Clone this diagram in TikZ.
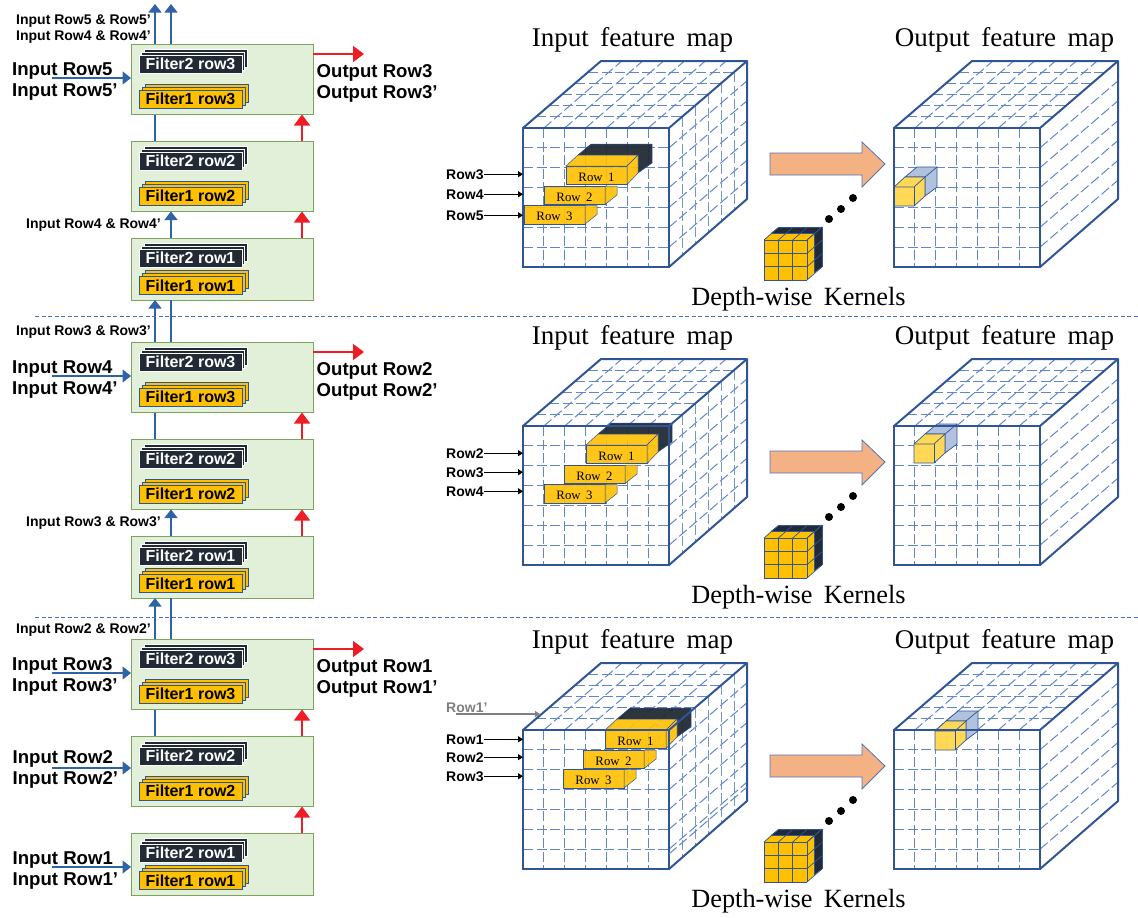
\documentclass[tikz,border=0pt]{standalone}
\usepackage{fontspec}
\setmainfont{Liberation Serif}[WordSpace=1.7]
\setsansfont{Liberation Sans}
\usetikzlibrary{arrows.meta,positioning}
\definecolor{gridblue}{HTML}{4472C4}
\definecolor{edgeblue}{HTML}{2F5597}
\definecolor{arrowblue}{HTML}{2E63A8}
\definecolor{blockgreen}{HTML}{E2F0D9}
\definecolor{blockedge}{HTML}{7BA45F}
\definecolor{filterdark}{HTML}{222A35}
\definecolor{filtergold}{HTML}{FFC000}
\definecolor{outred}{HTML}{EE1C25}
\definecolor{peach}{HTML}{F4B183}
\definecolor{lightyellow}{HTML}{FFD955}
\definecolor{paleblue}{HTML}{B0C2DE}

\begin{document}
\begin{tikzpicture}[
        x=1pt, y=-1pt,
        block/.style = {draw=blockedge, fill=blockgreen, line width=1pt, minimum width=182pt, inner sep=0pt, outer sep=0pt},
        filterbox/.style = {minimum width=103pt, minimum height=18pt, inner sep=0pt, font=\sffamily\bfseries\fontsize{16}{18}\selectfont},
        darkbox/.style = {filterbox, draw=white, line width=0.6pt, fill=filterdark, text=white},
        goldbox/.style = {filterbox, draw=edgeblue, line width=0.7pt, fill=filtergold, text=black},
        inlabel/.style = {anchor=base west, inner sep=0pt, font=\sffamily\bfseries\fontsize{18.6}{20}\selectfont},
        smalllabel/.style = {anchor=base west, inner sep=0pt, font=\sffamily\bfseries\fontsize{14}{16}\selectfont},
        rowlabel/.style = {anchor=base west, inner sep=0pt, font=\sffamily\bfseries\fontsize{14}{16}\selectfont},
        heading/.style = {anchor=base, inner sep=0pt, font=\fontsize{27}{30}\selectfont},
        kernelhead/.style = {anchor=base, inner sep=0pt, font=\fontsize{26.3}{30}\selectfont},
        blueline/.style = {draw=arrowblue, line width=1.5pt},
        bluearrow/.style = {blueline, -{Triangle[width=13pt,length=8.5pt]}},
        redarrow/.style = {draw=outred, line width=1.5pt, -{Triangle[width=16pt,length=11pt]}},
        rowarrow/.style = {draw=black, line width=1.2pt, -{Triangle[width=6pt,length=5pt]}},
        griddash/.style = {draw=gridblue!85!white, line width=1pt, dash pattern=on 10pt off 3.5pt},
        sidedash/.style = {draw=gridblue!75!white, line width=0.8pt, dash pattern=on 10pt off 3.5pt},
        cubeface/.style = {draw=edgeblue, line width=2pt, minimum width=146pt, minimum height=139pt, inner sep=0pt, outer sep=0pt},
        cubeedge/.style = {draw=edgeblue, line width=2pt, line join=round},
        rowfront/.style = {draw=edgeblue, line width=0.5pt, fill=filtergold, fill opacity=0.9, text opacity=1, anchor=north west, inner sep=0pt, outer sep=0pt, minimum width=61pt, minimum height=18.5pt, text height=12pt, text depth=0pt, font=\fontsize{12.8}{14}\selectfont},
        goldface/.style = {draw=edgeblue, line width=0.5pt, fill=filtergold, fill opacity=0.9},
        darkface/.style = {draw=edgeblue, line width=0.5pt, fill=filterdark, fill opacity=0.95},
        cellline/.style = {draw=edgeblue, line width=0.7pt},
        dotnode/.style = {circle, fill=black, minimum size=8pt, inner sep=0pt},
        sepline/.style = {draw=gridblue, line width=0.7pt, dash pattern=on 4pt off 2.5pt},
        pics/darkstack/.style = {code={
            \node[darkbox] (-back) at (5.5,-5.5) {};
            \node[darkbox] (-mid) at (2.75,-2.75) {};
            \node[darkbox] (-front) at (0,0) {#1};
        }},
        pics/goldstack/.style = {code={
            \node[goldbox] (-back) at (6,-6) {};
            \node[goldbox] (-mid) at (3,-3) {};
            \node[goldbox] (-front) at (0,0) {#1};
        }},
        pics/cubegrid/.style = {code={
            \foreach \i in {1,...,6} {
                \draw[griddash] ({\i*20.86},0) -- ({\i*20.86},139);
                \draw[griddash] (0,{\i*19.86}) -- (146,{\i*19.86});
                \draw[griddash] ({\i*20.86},0) -- ++(78,-67);
                \draw[griddash] (146,{\i*19.86}) -- ++(78,-67);
            }
            \foreach \i in {1,...,5} {
                \draw[griddash] ({\i*13},{-\i*11.17}) -- ++(146,0);
            }
        }},
        pics/sidegrid/.style = {code={
            \foreach \i in {1,...,5} {
                \draw[sidedash] ({146+\i*13},{-\i*11.17}) -- ++(0,139);
            }
        }},
        pics/cubeframe/.style = {code={
            \node[cubeface] (-face) at (73,69.5) {};
            \draw[cubeedge] (-face.north west) -- ++(78,-67) -- ++(146,0) -- ++(0,138) -- (-face.south east);
            \draw[cubeedge] (-face.north east) -- ++(78,-67);
        }},
        pics/kernelcube/.style = {code={
            \fill[filterdark] (7,-7) -- (15,-13) -- (58,-13) -- (58,27) -- (50,33) -- (50,-7) -- cycle;
            \fill[filtergold] (0,0) -- (7,-7) -- (50,-7) -- (50,33) -- (43,40) -- (0,40) -- cycle;
            \foreach \i in {0,1,2,3} {
                \draw[cellline] ({\i*14.33},0) -- ({\i*14.33},40);
                \draw[cellline] (0,{\i*13.33}) -- (43,{\i*13.33});
                \draw[cellline] ({\i*14.33},0) -- ++(15,-13);
                \draw[cellline] (43,{\i*13.33}) -- ++(15,-13);
            }
            \draw[cellline] (7,-7) -- ++(43,0) -- ++(0,40);
            \draw[cellline] (15,-13) -- ++(43,0) -- ++(0,40);
        }},
        pics/yellowcube/.style = {code={
            \draw[cellline, fill=paleblue] (11,-10) -- (23,-20) -- (43,-20) -- (43,0) -- (31,9) -- (31,-10) -- cycle;
            \draw[cellline] (31,-10) -- (43,-20);
            \draw[cellline, fill=lightyellow] (0,0) -- (11,-10) -- (31,-10) -- (31,9) -- (20,19) -- (0,19) -- cycle;
            \draw[cellline] (0,0) -- (20,0) -- (31,-10);
            \draw[cellline] (20,0) -- (20,19);
        }}
        ]
        \useasboundingbox (0,0) rectangle (1138,918);

        \foreach \pn/\dy/\rin/\rout in {1/0/5/3, 2/298/4/2, 3/595/3/1} {
            \foreach \rn/\ty/\hgt/\fy in {3/44/70.5/55, 2/141/70.5/55, 1/238/62/47.5} {
                \node[block, minimum height=\hgt] (block\pn r\rn) at (222,{\ty+\dy+\hgt/2}) {};
                \pic (dark\pn r\rn) at (190.5,{\ty+\dy+20}) {darkstack={Filter2 row\rn}};
                \pic (gold\pn r\rn) at (190.5,{\ty+\dy+\fy}) {goldstack={Filter1 row\rn}};
            }
            \node[inlabel] (inup\pn) at (12,{75+\dy}) {Input Row\rin};
            \node[inlabel] (indown\pn) at (12,{96+\dy}) {Input Row\rin’};
            \node[inlabel] (outup\pn) at (316.5,{77+\dy}) {Output Row\rout};
            \node[inlabel] (outdown\pn) at (316.5,{98+\dy}) {Output Row\rout’};
            \coordinate (instart\pn) at (52,{78+\dy});
            \coordinate (outend\pn) at (364,{54+\dy});
            \draw[bluearrow] (instart\pn) -- (instart\pn -| block\pn r3.west);
            \draw[redarrow] (outend\pn -| block\pn r3.east) -- (outend\pn);
            \draw[redarrow] ([xshift=171pt]block\pn r1.north west) -- ([xshift=171pt]block\pn r2.south west);
            \draw[redarrow] ([xshift=171pt]block\pn r2.north west) -- ([xshift=171pt]block\pn r3.south west);
            \draw[blueline] ([xshift=24pt]block\pn r2.north west) -- ([xshift=24pt]block\pn r3.south west);
        }

        \coordinate (topa) at (155,4);
        \coordinate (topb) at (171,4);
        \draw[bluearrow] ([xshift=24pt]block1r3.north west) -- (topa);
        \draw[bluearrow] ([xshift=40pt]block1r3.north west) -- (topb);
        \draw[bluearrow] ([xshift=40pt]block1r1.north west) -- ([xshift=40pt]block1r2.south west);
        \draw[bluearrow] ([xshift=40pt]block2r1.north west) -- ([xshift=40pt]block2r2.south west);
        \draw[bluearrow] ([xshift=24pt]block2r3.north west) -- ([xshift=24pt]block1r1.south west);
        \draw[blueline] ([xshift=40pt]block2r3.north west) -- ([xshift=40pt]block1r1.south west);
        \draw[bluearrow] ([xshift=24pt]block3r3.north west) -- ([xshift=24pt]block2r1.south west);
        \draw[blueline] ([xshift=40pt]block3r3.north west) -- ([xshift=40pt]block2r1.south west);

        \node[smalllabel] (tiptop) at (16,24) {Input Row5 \& Row5’};
        \node[smalllabel] (tipnext) at (16,40) {Input Row4 \& Row4’};
        \node[smalllabel] (tipmida) at (26,228) {Input Row4 \& Row4’};
        \node[smalllabel] (tipsep) at (16,335) {Input Row3 \& Row3’};
        \node[smalllabel] (tipmidb) at (26,526) {Input Row3 \& Row3’};
        \node[smalllabel] (tiplast) at (16,633) {Input Row2 \& Row2’};

        \node[inlabel] (intwoa) at (12.5,763) {Input Row2};
        \node[inlabel] (intwob) at (12.5,784) {Input Row2’};
        \node[inlabel] (inonea) at (12.5,864) {Input Row1};
        \node[inlabel] (inoneb) at (12.5,885) {Input Row1’};
        \coordinate (intwostart) at (52,768);
        \coordinate (inonestart) at (52,867);
        \draw[bluearrow] (intwostart) -- (intwostart -| block3r2.west);
        \draw[bluearrow] (inonestart) -- (inonestart -| block3r1.west);

        \draw[sepline] (35,316) -- (1138,316);
        \draw[sepline] (35,617) -- (1138,617);

        \foreach \pn/\dr/\fx/\fy/\yx/\yy/\ra/\rb/\rc/\ya/\yb/\yc in {
            1/0/566/166/894/187/3/4/5/174/194/215,
            2/298/586/445/914/444/2/3/4/453/472/491,
            3/602/605/730/935/731/1/2/3/739/757/776} {
            \node[heading] (intitle\pn) at (632.5,{46+\dr}) {Input feature map};
            \node[heading] (outtitle\pn) at (1004.5,{46+\dr}) {Output feature map};
            \node[kernelhead] (kerneltitle\pn) at (798.5,{305+\dr}) {Depth-wise Kernels};

            \pic (ingrid\pn) at (523,{128+\dr}) {cubegrid};
            \pic (inside\pn) at (523,{128+\dr}) {sidegrid};
            \pic (outgrid\pn) at (894,{128+\dr}) {cubegrid};

            \node[rowfront] (rowa\pn) at (\fx,\fy) {Row 1};
            \node[rowfront] (rowb\pn) at ({\fx-22},{\fy+20}) {Row 2};
            \node[rowfront] (rowc\pn) at ({\fx-42},{\fy+39.5}) {Row 3};
            \draw[darkface] (rowa\pn.north west) ++(12,-11) -- ++(13,-11) -- ++(61,0) -- ++(0,19) -- ++(-14,10) -- ++(0,-18) -- cycle;
            \draw[goldface] (rowa\pn.north west) -- ++(12,-11) -- ++(60,0) -- (rowa\pn.north east) -- cycle;
            \draw[goldface] (rowa\pn.north east) -- ++(11,-11) -- ++(0,18) -- (rowa\pn.south east) -- cycle;
            \draw[goldface] (rowb\pn.north east) -- ++(12,0) -- ++(0,9) -- (rowb\pn.south east) -- cycle;
            \draw[goldface] (rowc\pn.north east) -- ++(12,0) -- ++(0,9) -- (rowc\pn.south east) -- cycle;

            \pic (spot\pn) at (\yx,\yy) {yellowcube};
            \pic (incube\pn) at (523,{128+\dr}) {cubeframe};
            \pic (outcube\pn) at (894,{128+\dr}) {cubeframe};

            \node[rowlabel] (rlabela\pn) at (446,{\ya+5}) {Row\ra};
            \node[rowlabel] (rlabelb\pn) at (446,{\yb+5}) {Row\rb};
            \node[rowlabel] (rlabelc\pn) at (446,{\yc+5}) {Row\rc};
            \draw[rowarrow] (rlabela\pn.east) -- (rlabela\pn.east -| incube\pn-face.west);
            \draw[rowarrow] (rlabelb\pn.east) -- (rlabelb\pn.east -| incube\pn-face.west);
            \draw[rowarrow] (rlabelc\pn.east) -- (rlabelc\pn.east -| incube\pn-face.west);

            \draw[draw=gridblue!80!gray, line width=0.8pt, fill=peach] (770,{153+\dr}) -- (862,{153+\dr}) -- (862,{142+\dr}) -- (885,{164+\dr}) -- (862,{187+\dr}) -- (862,{175+\dr}) -- (770,{175+\dr}) -- cycle;

            \pic (kernel\pn) at (764,{240+\dr}) {kernelcube};
            \node[dotnode] (dota\pn) at (829,{219+\dr}) {};
            \node[dotnode] (dotb\pn) at (841,{209+\dr}) {};
            \node[dotnode] (dotc\pn) at (853,{198+\dr}) {};
        }

        \draw[griddash] (669,854) -- ++(78,-67);

        \node[rowlabel, text=gray] (rowprime) at (446,712) {Row1’};
        \coordinate (primestart) at (456,714);
        \coordinate (primeend) at (540,714);
        \draw[rowarrow, draw=gray] (primestart) -- (primeend);
    \end{tikzpicture}
\end{document}
